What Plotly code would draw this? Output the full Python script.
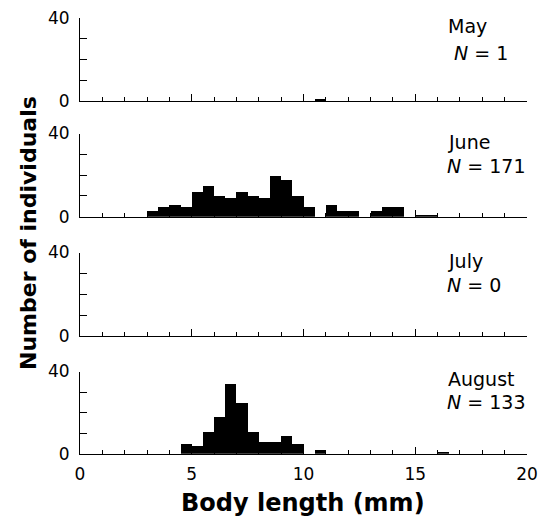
import numpy as np
import plotly.graph_objects as go

# ---------------- data ----------------
months = ["May", "June", "July", "August"]
n_values = [1, 171, 0, 133]
bin_width = 0.5
bin_left = list(np.arange(0, 20, bin_width))  # 40 bins, 0.0 ... 19.5

may_counts = [0]*21 + [1] + [0]*18
june_counts = ([0]*6 +
               [3, 5, 6, 5, 12, 15, 10, 9, 12, 10, 9, 20, 18, 10, 5, 0,
                6, 3, 3, 0, 3, 5, 5, 0, 1, 1] +
               [0]*8)
july_counts = [0]*40
august_counts = ([0]*9 +
                 [5, 4, 11, 18, 34, 25, 11, 6, 6, 9, 5, 0, 2] +
                 [0]*10 + [1] + [0]*7)
all_counts = [may_counts, june_counts, july_counts, august_counts]

x_ticks_major = [0, 5, 10, 15, 20]
y_tickvals = [0, 10, 20, 30, 40]
y_ticktext = ["0", "", "", "", "40"]

# ---------------- layout geometry (pixels) ----------------
W, H = 543, 519
L, R = 80, 527
T, B = 18, 454
ph = B - T
panel_px = [(18, 101), (133.5, 216.7), (252.5, 336), (371.5, 453.8)]
label_px = [((446, 26.5), (452, 52.5)),
            ((446, 142), (445, 165.5)),
            ((446, 261), (445, 284.5)),
            ((446, 378.5), (445, 402))]

FONT = "DejaVu Sans"

def py2paper(py):
    return (B - py) / ph

def px2paper(px):
    return (px - L) / (R - L)

fig = go.Figure()
layout = dict(
    width=W, height=H,
    margin=dict(l=L, r=W - R, t=T, b=H - B, pad=0),
    plot_bgcolor="white", paper_bgcolor="white",
    showlegend=False, bargap=0,
    font=dict(family=FONT, size=17, color="black"),
)
annotations = []

for i, (month, n, counts) in enumerate(zip(months, n_values, all_counts)):
    k = i + 1
    xa = "x" if k == 1 else f"x{k}"
    ya = "y" if k == 1 else f"y{k}"
    centers = [b + bin_width / 2 for b in bin_left]
    fig.add_trace(go.Bar(x=centers, y=counts, width=bin_width,
                         marker=dict(color="black", line=dict(width=0)),
                         xaxis=xa, yaxis=ya))
    top, bot = panel_px[i]
    layout[f"xaxis{'' if k == 1 else k}"] = dict(
        domain=[0, 1], anchor=ya, range=[0, 20], automargin=False,
        showline=True, linecolor="black", linewidth=1,
        ticks="inside", tickvals=x_ticks_major, ticklen=7, tickcolor="black",
        minor=dict(ticks="inside", dtick=1, ticklen=4, tickcolor="black", showgrid=False),
        showticklabels=(k == 4), showgrid=False, zeroline=False,
        ticklabelstandoff=5,
        tickfont=dict(size=17, family=FONT),
    )
    layout[f"yaxis{'' if k == 1 else k}"] = dict(
        domain=[py2paper(bot), py2paper(top)], anchor=xa, range=[0, 40], automargin=False,
        showline=True, linecolor="black", linewidth=1,
        ticks="inside", tickvals=y_tickvals, ticktext=y_ticktext,
        ticklen=7, tickcolor="black", ticklabelstandoff=6,
        showgrid=False, zeroline=False,
        tickfont=dict(size=17, family=FONT),
    )
    (x1, y1), (x2, y2) = label_px[i]
    annotations.append(dict(text=month, xref="paper", yref="paper",
                            x=px2paper(x1), y=py2paper(y1), xanchor="left", yanchor="middle",
                            showarrow=False, font=dict(size=19, family=FONT)))
    annotations.append(dict(text=f"<i>N</i> = {n}", xref="paper", yref="paper",
                            x=px2paper(x2), y=py2paper(y2), xanchor="left", yanchor="middle",
                            showarrow=False, font=dict(size=19, family=FONT)))

annotations.append(dict(text="<b>Number of individuals</b>", xref="paper", yref="paper",
                        x=px2paper(28), y=py2paper(233), textangle=-90,
                        xanchor="center", yanchor="middle", showarrow=False,
                        font=dict(size=22, family=FONT)))
annotations.append(dict(text="<b>Body length (mm)</b>", xref="paper", yref="paper",
                        x=px2paper(303), y=py2paper(503),
                        xanchor="center", yanchor="middle", showarrow=False,
                        font=dict(size=24, family=FONT)))
layout["annotations"] = annotations
fig.update_layout(**layout)
fig.write_html("out.html")
